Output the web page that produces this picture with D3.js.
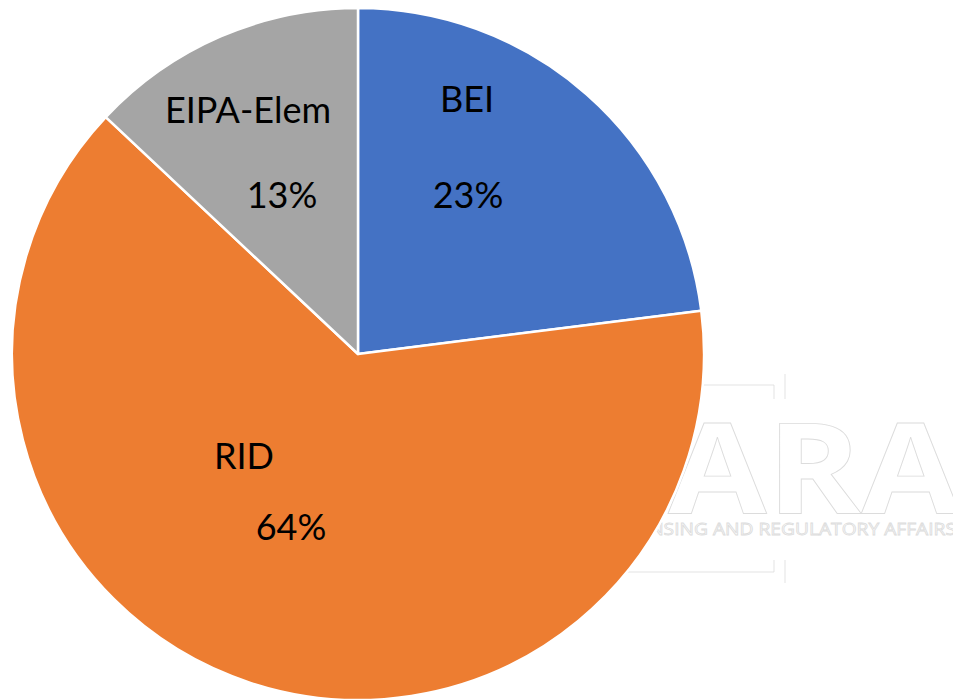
<!DOCTYPE html>
<html>
<head>
<meta charset="utf-8">
<script src="https://cdn.jsdelivr.net/npm/d3@7"></script>
<style>
  html, body { margin: 0; padding: 0; background: #fff; }
  svg { display: block; }
</style>
</head>
<body>
<svg id="chart" width="953" height="699"></svg>
<script>
// chart data
const categories = ["BEI", "RID", "EIPA-Elem"]
const shares = [23, 64, 13]
const sliceColors = ["#4472C4", "#ED7D31", "#A5A5A5"]

// where Excel put each label (name line, then percent line)
const labelLayout = [
    {name: [467, 112], pct: [468, 208]},
    {name: [244, 469], pct: [291, 540]},
    {name: [248, 123], pct: [282, 208]},
]

const width = 953, height = 699
const cx = 358, cy = 354, radius = 346

const svg = d3.select("#chart")

// faint watermark logo sitting behind the pie
const logo = svg.append("g")
    .attr("fill", "white")
    .attr("stroke", "#dcdcdc")
    .attr("stroke-width", 0.8)

logo.append("text")
    .attr("x", 668)
    .attr("y", 513)
    .attr("font-family", "'Open Sans', sans-serif")
    .attr("font-weight", 700)
    .attr("font-size", "126px")
    .attr("textLength", 292)
    .attr("lengthAdjust", "spacingAndGlyphs")
    .text("ARA")

logo.append("text")
    .attr("x", 956)
    .attr("y", 535)
    .attr("text-anchor", "end")
    .attr("font-family", "'Open Sans', sans-serif")
    .attr("font-weight", 400)
    .attr("font-size", "17px")
    .attr("textLength", 345)
    .attr("lengthAdjust", "spacingAndGlyphs")
    .text("LICENSING AND REGULATORY AFFAIRS")

logo.append("path")
    .attr("fill", "none")
    .attr("d", `M 600 385 L 774 385 L 774 399 M 785 374 L 785 399
                M 600 572 L 774 572 L 774 560 M 785 560 L 785 583`)

// pie
const pie = d3.pie().sort(null).value(d => d)
const arc = d3.arc().innerRadius(0).outerRadius(radius)

const pieGroup = svg.append("g")
    .attr("transform", `translate(${cx},${cy})`)

pieGroup.selectAll("path")
    .data(pie(shares))
    .enter()
    .append("path")
    .attr("d", arc)
    .attr("fill", (d, i) => sliceColors[i])
    .attr("stroke", "white")
    .attr("stroke-width", 2.5)
    .attr("stroke-linejoin", "round")

// labels
const labelGroup = svg.append("g")
    .attr("font-family", "Lato, 'Open Sans', sans-serif")
    .attr("font-size", "36px")
    .attr("fill", "black")
    .attr("text-anchor", "middle")

labelGroup.selectAll("text.name")
    .data(categories)
    .enter()
    .append("text")
    .attr("class", "name")
    .attr("x", (d, i) => labelLayout[i].name[0])
    .attr("y", (d, i) => labelLayout[i].name[1])
    .text(d => d)

labelGroup.selectAll("text.pct")
    .data(shares)
    .enter()
    .append("text")
    .attr("class", "pct")
    .attr("x", (d, i) => labelLayout[i].pct[0])
    .attr("y", (d, i) => labelLayout[i].pct[1])
    .text(d => `${d}%`)
</script>
</body>
</html>
